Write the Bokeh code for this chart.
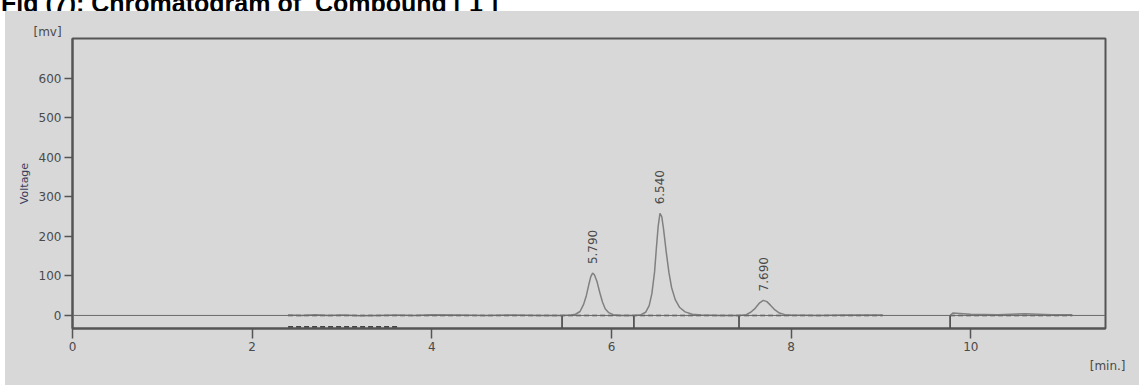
import numpy as np
from bokeh.plotting import figure
from bokeh.layouts import column
from bokeh.models import Range1d, ColumnDataSource, FixedTicker, Span, Title, Div
from bokeh.core.properties import value
from bokeh.embed import file_html
from bokeh.resources import INLINE

title_text = "Fig (7): Chromatogram of  Compound [ 1 ]"
x_ticks = [0, 2, 4, 6, 8, 10]
y_ticks = [0, 100, 200, 300, 400, 500, 600]
y_unit = "[mv]"
x_unit = "[min.]"
y_title = "Voltage"

# chromatogram trace, first segment (time in min, voltage in mV)
t1 = [2.40, 2.55, 2.70, 2.85, 3.00, 3.20, 3.40, 3.60, 3.80, 4.00, 4.30, 4.60, 4.90,
      5.20, 5.45, 5.55, 5.60, 5.65, 5.69, 5.72, 5.75, 5.77, 5.79, 5.81, 5.84, 5.87,
      5.90, 5.93, 5.97, 6.02, 6.10, 6.25, 6.33, 6.38, 6.42, 6.45, 6.48, 6.50, 6.52,
      6.54, 6.56, 6.58, 6.61, 6.64, 6.67, 6.71, 6.76, 6.82, 6.90, 7.00, 7.20, 7.42,
      7.50, 7.55, 7.60, 7.65, 7.69, 7.73, 7.77, 7.82, 7.87, 7.93, 8.00, 8.30, 8.60, 9.02]
v1 = [1, 0, 2, 0, 1, -1, 0, 1, 0, 2, 1, 0, 1,
      0, 0, 1, 3, 10, 28, 50, 80, 98, 107, 103, 85, 58,
      34, 17, 7, 2, 0, 0, 2, 8, 25, 55, 110, 170, 225,
      258, 250, 218, 160, 108, 70, 40, 20, 9, 3, 1, 0, 0,
      2, 8, 18, 32, 38, 35, 26, 14, 6, 2, 1, 0, 1, 1]
# second segment
t2 = [9.77, 9.80, 9.88, 10.00, 10.30, 10.60, 10.90, 11.13]
v2 = [0, 6, 5, 3, 2, 4, 2, 2]

peak_times = [5.79, 6.54, 7.69]
peak_heights = [107, 258, 38]
peak_labels = ["5.790", "6.540", "7.690"]

boundary_times = [5.45, 6.25, 7.42, 9.77]
baseline_starts = [2.40, 9.77]
baseline_ends = [9.02, 11.13]
lower_dash_x = [2.40, 3.62]
lower_dash_y = [-29, -29]

X0, X1 = 0, 11.5
Y0, Y1 = -33, 700

GRAY = "#d8d8d8"
INK = "#555555"
TXT = "#4a4a4a"

TOP_BAND = 11

p = figure(width=1139, height=385 - TOP_BAND, x_range=Range1d(X0, X1), y_range=Range1d(Y0, Y1),
           output_backend="svg", toolbar_location=None,
           min_border_left=72, min_border_right=34, min_border_top=38 - TOP_BAND,
           min_border_bottom=57,
           background_fill_color=GRAY, border_fill_color=GRAY, border_fill_alpha=0,
           styles={"background": "linear-gradient(to right, #ffffff 5px, %s 5px)" % GRAY})

p.xgrid.visible = False
p.ygrid.visible = False
p.outline_line_color = INK
p.outline_line_width = 2

p.xaxis.ticker = FixedTicker(ticks=x_ticks)
p.yaxis.ticker = FixedTicker(ticks=y_ticks)
for ax in (p.xaxis[0], p.yaxis[0]):
    ax.axis_line_color = INK
    ax.axis_line_width = 2
    ax.major_tick_line_color = INK
    ax.major_tick_line_width = 1.5
    ax.major_tick_in = 0
    ax.minor_tick_line_color = None
    ax.major_label_text_font = "DejaVu Sans"
    ax.major_label_text_font_size = "12px"
    ax.major_label_text_color = TXT
p.xaxis.major_tick_out = 10
p.xaxis.major_label_standoff = 3
p.yaxis.major_tick_out = 8
p.yaxis.major_label_standoff = 3
p.yaxis.axis_label = y_title
p.yaxis.axis_label_text_font = "DejaVu Sans"
p.yaxis.axis_label_text_font_size = "11px"
p.yaxis.axis_label_text_font_style = "normal"
p.yaxis.axis_label_text_color = "#3b3b5a"
p.yaxis.axis_label_standoff = 5

# unit labels as side titles
p.add_layout(Title(text=y_unit, align="left", offset=-39, standoff=0,
                   text_font="DejaVu Sans", text_font_size="12px",
                   text_font_style="normal", text_color=TXT), "above")
p.add_layout(Title(text=x_unit, align="right", offset=-20, standoff=7,
                   text_font="DejaVu Sans", text_font_size="12px",
                   text_font_style="normal", text_color=TXT), "below")

# zero line across the frame
p.add_layout(Span(location=0, dimension="width", line_color="#6a6a6a", line_width=1))

# integration baselines
p.segment(x0=baseline_starts, y0=[0, 0], x1=baseline_ends, y1=[0, 0],
          line_color="#444444", line_width=1.6, line_dash="5 3")
p.line(lower_dash_x, lower_dash_y, line_color="#444444", line_width=1.6, line_dash="5 3")

# peak boundary markers
p.segment(x0=boundary_times, y0=[0] * len(boundary_times), x1=boundary_times,
          y1=[Y0] * len(boundary_times), line_color="#444444", line_width=1.6)

# trace
p.line(t1, v1, line_color="#808080", line_width=1.5)
p.line(t2, v2, line_color="#808080", line_width=1.5)

# peak labels
src = ColumnDataSource(dict(x=peak_times, y=peak_heights, t=peak_labels))
p.text(x="x", y="y", text="t", source=src, angle=np.pi / 2, text_align="left",
       text_baseline="middle", y_offset=-9, text_font=value("DejaVu Sans"),
       text_font_size="12px", text_color=TXT)

# title strip (cut off at the top, as in the reference)
title_html = (
    '<div style="font-family: \'Liberation Sans\', Arial, sans-serif; font-weight: bold; '
    'font-size: 25px; line-height: 29px; color: #000; white-space: pre; '
    'margin-top: -16px; margin-left: 1px;">' + title_text + '</div>'
)
title_div = Div(text=title_html, width=1139, height=TOP_BAND, margin=0,
                styles={"overflow": "hidden", "background": "#ffffff"})

layout = column(title_div, p, spacing=0)

open("out.html", "w").write(file_html(layout, INLINE))
